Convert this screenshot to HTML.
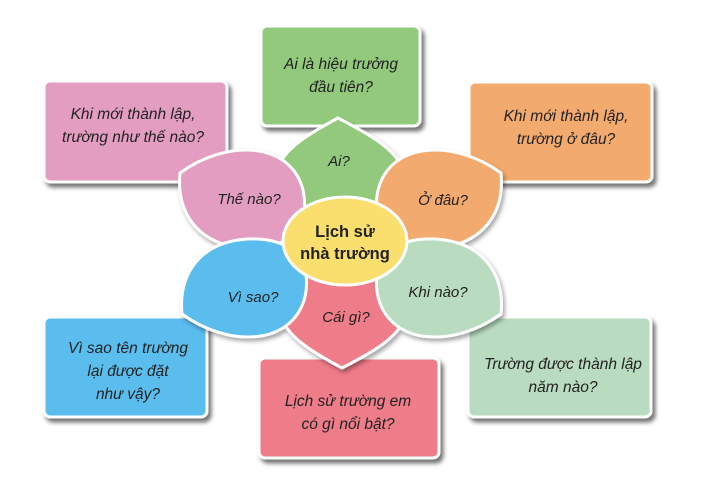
<!DOCTYPE html>
<html><head><meta charset="utf-8"><style>
html,body{margin:0;padding:0;background:#fff;}
svg{display:block;}
text{font-family:"Liberation Sans",sans-serif;fill:#222;}
.b{font-style:italic;font-size:15.5px;}
.p{font-style:italic;font-size:15px;}
</style></head><body>
<svg width="704" height="484" viewBox="0 0 704 484" xmlns="http://www.w3.org/2000/svg">
<defs>
<filter id="sh" x="-20%" y="-20%" width="140%" height="140%">
<feDropShadow dx="3" dy="4" stdDeviation="2.2" flood-color="#000" flood-opacity="0.55"/>
</filter>
<filter id="sh2" x="-20%" y="-20%" width="140%" height="140%">
<feDropShadow dx="2" dy="3" stdDeviation="2" flood-color="#000" flood-opacity="0.35"/>
</filter>
</defs>
<g stroke="#fff" stroke-width="3" filter="url(#sh)">
<rect x="261" y="26" width="159" height="100" rx="6" fill="#93c97c"/>
<rect x="44" y="81" width="183" height="101" rx="6" fill="#e39dc1"/>
<rect x="469" y="82" width="183" height="100" rx="6" fill="#f3aa6e"/>
<rect x="44" y="317" width="163" height="100" rx="6" fill="#5abdee"/>
<rect x="259" y="358" width="180" height="100" rx="6" fill="#ee7b89"/>
<rect x="468" y="317" width="183" height="100" rx="6" fill="#b9dcc0"/>
</g>
<text class="b" text-anchor="middle"><tspan x="341" y="69">Ai là hiệu trưởng</tspan><tspan x="341" y="92">đầu tiên?</tspan></text>
<text class="b" text-anchor="middle"><tspan x="133" y="119">Khi mới thành lập,</tspan><tspan x="133" y="142">trường như thế nào?</tspan></text>
<text class="b" text-anchor="middle"><tspan x="566" y="121">Khi mới thành lập,</tspan><tspan x="566" y="144">trường ở đâu?</tspan></text>
<text class="b" text-anchor="middle"><tspan x="128" y="353">Vì sao tên trường</tspan><tspan x="128" y="376">lại được đặt</tspan><tspan x="128" y="399">như vậy?</tspan></text>
<text class="b" text-anchor="middle"><tspan x="348" y="406">Lịch sử trường em</tspan><tspan x="348" y="429">có gì nổi bật?</tspan></text>
<text class="b" text-anchor="middle"><tspan x="563" y="369">Trường được thành lập</tspan><tspan x="563" y="392">năm nào?</tspan></text>
<g stroke="#fff" stroke-width="3" filter="url(#sh2)">
<path d="M338,118 C365,132 395,148 402,168 C405,185 395,205 380,215 L300,215 C285,205 275,185 278,168 C284,148 312,132 338,118 Z" fill="#93c97c"/>
<path d="M342,368 C369,354 399,338 404,318 C407,301 397,281 382,271 L302,271 C287,281 277,301 282,318 C288,338 316,354 342,368 Z" fill="#ee7b89"/>
<path d="M180,173 C225,140 290,140 303,190 C312,235 280,250 245,248 C200,245 176,215 180,173 Z" fill="#e39dc1"/>
<path d="M501,173 C456,140 391,140 378,190 C369,235 401,250 436,248 C481,245 505,215 501,173 Z" fill="#f3aa6e"/>
<path d="M182,314 C227,347 292,347 305,297 C314,252 282,237 247,239 C202,242 178,272 182,314 Z" fill="#5abdee"/>
<path d="M501,314 C456,347 391,347 378,297 C369,252 401,237 436,239 C481,242 505,272 501,314 Z" fill="#b9dcc0"/>
<ellipse cx="345" cy="241" rx="62" ry="44" fill="#fbdf6e"/>
</g>
<text class="p" text-anchor="middle" x="339" y="166">Ai?</text>
<text class="p" text-anchor="middle" x="249" y="204">Thế nào?</text>
<text class="p" text-anchor="middle" x="443" y="205">Ở đâu?</text>
<text class="p" text-anchor="middle" x="253" y="302">Vì sao?</text>
<text class="p" text-anchor="middle" x="346" y="322">Cái gì?</text>
<text class="p" text-anchor="middle" x="438" y="297">Khi nào?</text>
<text text-anchor="middle" font-weight="bold" font-size="16.5px"><tspan x="345" y="237">Lịch sử</tspan><tspan x="345" y="259">nhà trường</tspan></text>
</svg>
</body></html>
